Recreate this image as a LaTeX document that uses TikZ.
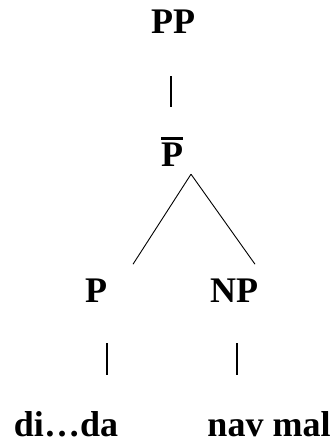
\documentclass[tikz,border=0pt]{standalone}
\usepackage{fontspec}
\setmainfont{Liberation Serif}
\begin{document}
\begin{tikzpicture}[x=1pt,y=-1pt,
  lab/.style={anchor=base,inner sep=0pt,text depth=0pt,font=\fontsize{36}{40}\selectfont\bfseries},
  vbar/.style={line width=2.4pt},
  branch/.style={line width=0.9pt}]
\useasboundingbox (0,0) rectangle (330,443);
\node[lab] (PP) at (173,34) {PP};
\node[lab] (Pbar) at (172,167) {\vbox{\hrule height 2.4pt\kern 3.8pt\hbox{P}}};
\node[lab] (P) at (96,302) {P};
\node[lab] (NP) at (234,302) {NP};
\node[lab] (w1) at (66,436) {di…da};
\node[lab] (w2) at (269,436) {nav mal};
% unary bars
\draw[vbar] ([xshift=-2pt,yshift=-42pt]PP.south) -- ([xshift=-1pt,yshift=30pt]Pbar.north);
\draw[vbar] ([xshift=11pt,yshift=-41pt]P.south) -- ([xshift=41pt,yshift=36pt]w1.north);
\draw[vbar] ([xshift=3pt,yshift=-41pt]NP.south) -- ([xshift=-32pt,yshift=36pt]w2.north);
% branches
\draw[branch] ([xshift=19pt,yshift=-7pt]Pbar.south) -- ([xshift=37pt,yshift=14pt]P.north);
\draw[branch] ([xshift=19pt,yshift=-7pt]Pbar.south) -- ([xshift=21pt,yshift=14pt]NP.north);
\end{tikzpicture}
\end{document}
